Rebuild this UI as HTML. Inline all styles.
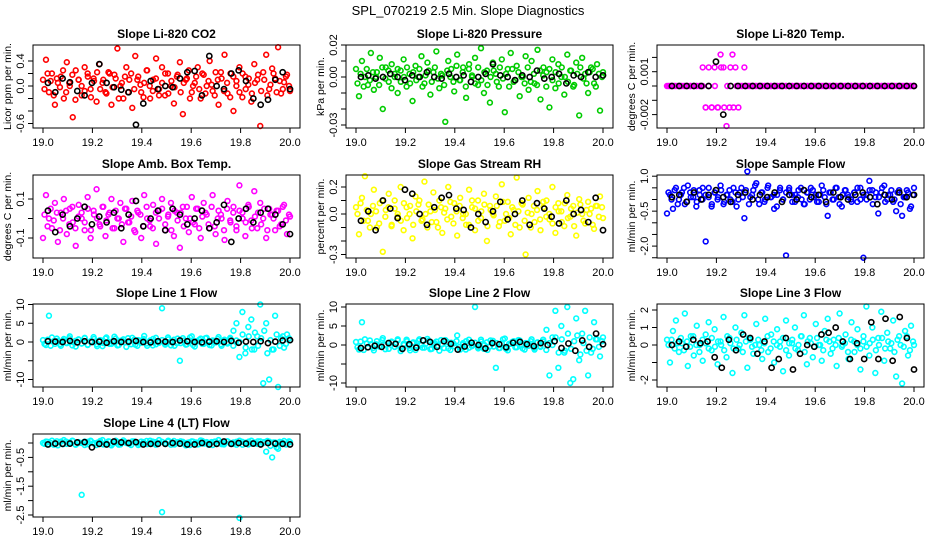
<!DOCTYPE html>
<html><head><meta charset="utf-8"><style>
html,body{margin:0;padding:0;background:#fff;}
svg{display:block;font-family:"Liberation Sans",sans-serif;}
</style></head><body>
<svg id="chart" width="936" height="540" viewBox="0 0 936 540" xmlns="http://www.w3.org/2000/svg">
<rect width="936" height="540" fill="#fff"/>
<text x="468" y="15" text-anchor="middle" font-size="13">SPL_070219  2.5 Min. Slope Diagnostics</text>
</svg>
<script>
const xTicks = [19.0, 19.2, 19.4, 19.6, 19.8, 20.0];
const xTickLabels = ["19.0", "19.2", "19.4", "19.6", "19.8", "20.0"];

const co2Vals = [0.1,0.42,-0.1,0.2,-0.3,0.05,0.15,-0.2,0.38,0.0,-0.5,0.25,0.1,-0.15,0.3,0.2,-0.05,0.12,-0.25,0.35,0.05,-0.1,0.22,-0.3,0.18,0.6,0.0,-0.2,0.3,0.1,-0.35,0.48,0.15,-0.1,0.05,0.25,-0.2,0.1,0.44,-0.05,0.3,-0.15,0.2,0.0,-0.28,0.15,0.38,-0.45,0.1,0.25,-0.1,0.05,0.3,-0.2,0.18,0.0,0.4,-0.08,0.22,-0.3,0.12,0.5,-0.12,0.2,-0.4,0.08,0.3,-0.18,0.15,0.02,-0.25,0.35,0.1,-0.64,0.22,0.5,-0.05,0.28,0.12,0.62,-0.12,0.06,0.18,-0.08];
const co2Vals2 = [-0.05,0.2,0.08,-0.15,0.12,-0.02,0.25,-0.1,0.05,0.18,-0.22,0.1,0.0,-0.08,0.15,-0.18,0.08,0.22,-0.05,0.1,-0.12,0.2,-0.02,0.12,-0.2,0.05,0.15,-0.1,0.2,-0.05,0.1,0.02,-0.18,0.25,0.0,-0.08,0.12,-0.15,0.05,0.2,-0.12,0.08,-0.02,0.18,-0.1,0.05,0.12,-0.2,0.0,0.15,-0.05,0.2,-0.12,0.08,0.02,-0.15,0.1,0.22,-0.08,0.05,-0.18,0.15,0.0,-0.1,0.2,-0.05,0.12,-0.12,0.05,0.18,-0.08,0.1,-0.15,0.02,0.2,-0.1,0.08,-0.05,0.15,0.0];
const co2Black = [0.05,-0.1,0.12,0.06,-0.08,-0.15,0.05,0.35,0.05,-0.02,-0.06,-0.1,-0.62,-0.28,0.08,-0.05,0.0,-0.02,0.12,0.22,0.24,-0.15,0.48,0.0,-0.05,0.2,0.25,0.08,-0.2,-0.3,-0.22,0.1,0.22,-0.05];
const presVals = [0.005,-0.012,0.01,0.0,-0.005,0.015,-0.008,0.003,0.012,-0.02,0.006,-0.003,0.008,0.0,-0.01,0.004,0.011,-0.006,0.002,-0.015,0.007,0.0,0.013,-0.004,0.009,-0.011,0.003,0.016,-0.007,0.001,-0.028,0.01,0.005,-0.009,0.014,-0.002,0.006,-0.013,0.008,0.0,0.012,-0.005,0.018,-0.01,0.004,-0.016,0.009,0.002,-0.006,0.011,-0.022,0.005,0.015,-0.003,0.007,-0.012,0.0,0.013,-0.008,0.01,-0.004,0.017,-0.014,0.006,0.003,-0.019,0.011,-0.007,0.008,0.0,-0.011,0.014,0.004,-0.006,0.009,-0.024,0.012,0.002,-0.01,0.006,-0.004,0.008,-0.021,0.003];
const presVals2 = [-0.004,0.002,-0.006,0.005,-0.002,0.003,0.0,-0.005,0.006,-0.001,0.004,-0.007,0.002,0.005,-0.003,0.0,0.006,-0.004,0.003,-0.002,0.005,-0.006,0.001,0.004,-0.003,0.006,-0.001,0.002,-0.005,0.004,0.0,-0.003,0.007,-0.002,0.003,-0.006,0.005,0.001,-0.004,0.006,-0.002,0.003,-0.005,0.0,0.004,-0.003,0.006,-0.001,0.002,-0.006,0.005,-0.002,0.003,0.0,-0.004,0.006,-0.003,0.002,-0.005,0.004,0.001,-0.006,0.005,-0.002,0.003,-0.004,0.006,0.0,-0.003,0.004,-0.005,0.002,0.006,-0.001,-0.004,0.003,0.005,-0.006,0.002,0.0];
const presBlack = [0.0,0.001,-0.001,0.0,0.002,0.0,-0.002,0.001,0.0,0.003,0.0,-0.001,0.002,0.0,0.001,-0.003,0.0,0.002,0.008,0.001,0.0,-0.002,0.001,0.0,0.004,-0.001,0.0,0.002,-0.004,0.001,0.0,0.003,0.0,0.001];
const tempVals = [0,0,0,0,0,0,0,0,0,0,0,0,0.0013,-0.0015,0,-0.0015,0.0013,-0.0015,0.0022,0.0013,-0.0028,-0.0015,0.0022,0.0013,-0.0015,0,0.0013,0,0,0,0,0,0,0,0,0,0,0,0,0,0,0,0,0,0,0,0,0,0,0,0,0,0,0,0,0,0,0,0,0,0,0,0,0,0,0,0,0,0,0,0,0,0,0,0,0,0,0,0,0,0,0,0,0];
const tempVals2 = [0,0,0,0,0,0,0,0,0,0,0,0,-0.0015,0.0013,-0.0015,0,-0.0015,0.0013,-0.0015,0,0.0013,-0.0015,0,0,0,0,0,0,0,0,0,0,0,0,0,0,0,0,0,0,0,0,0,0,0,0,0,0,0,0,0,0,0,0,0,0,0,0,0,0,0,0,0,0,0,0,0,0,0,0,0,0,0,0,0,0,0,0,0,0];
const tempBlack = [0,0,0,0,0,0,0.0017,-0.002,0,0,0,0,0,0,0,0,0,0,0,0,0,0,0,0,0,0,0,0,0,0,0,0,0,0];
const ambVals = [-0.1,0.12,0.0,-0.05,0.08,-0.12,0.03,0.1,-0.08,0.05,-0.02,-0.14,0.07,0.0,-0.06,0.11,-0.1,0.04,0.15,-0.03,0.06,-0.09,0.02,0.1,-0.05,0.0,0.08,-0.12,0.05,-0.02,0.09,-0.07,0.03,-0.1,0.12,0.0,-0.04,0.07,-0.13,0.04,0.1,-0.06,0.01,0.08,-0.09,0.03,-0.15,0.06,0.0,-0.07,0.11,-0.03,0.05,-0.1,0.08,0.02,-0.05,0.12,-0.08,0.04,0.0,-0.11,0.09,-0.02,0.06,-0.06,0.17,0.03,-0.09,0.07,-0.01,0.14,-0.05,0.08,0.0,-0.1,0.05,0.02,-0.06,0.04,-0.03,0.07,-0.08,0.01];
const ambVals2 = [0.02,-0.04,0.05,-0.01,0.03,-0.06,0.0,0.04,-0.03,0.06,-0.05,0.01,0.03,-0.02,0.05,-0.06,0.02,0.0,-0.04,0.06,-0.01,0.03,-0.05,0.04,0.0,-0.03,0.05,-0.02,0.01,-0.06,0.04,0.02,-0.04,0.06,-0.01,-0.05,0.03,0.0,0.05,-0.03,0.02,-0.06,0.04,-0.01,0.03,-0.04,0.06,0.0,-0.02,0.05,-0.05,0.01,0.03,-0.03,0.06,-0.04,0.0,0.02,-0.06,0.05,-0.01,0.03,-0.04,0.04,0.0,-0.02,0.06,-0.05,0.01,0.03,-0.03,0.05,-0.06,0.02,0.0,0.04,-0.04,0.06,-0.01,0.02];
const ambBlack = [0.04,-0.07,0.02,-0.04,0.0,0.06,-0.03,0.01,-0.02,0.03,-0.05,0.02,0.09,-0.04,0.0,0.04,-0.06,0.05,0.02,-0.03,0.0,0.04,-0.05,-0.02,0.07,-0.12,0.0,0.05,-0.02,0.03,0.05,0.02,-0.03,-0.08];
const rhVals = [0.05,-0.15,0.12,0.28,-0.05,0.0,0.18,-0.1,0.08,-0.28,0.03,0.15,-0.08,0.1,-0.02,0.2,-0.12,0.05,0.0,-0.18,0.13,0.07,-0.05,0.24,-0.1,0.02,0.16,-0.06,0.1,-0.14,0.04,0.2,-0.02,0.08,-0.16,0.12,0.0,-0.08,0.18,0.05,-0.12,0.1,-0.03,0.15,-0.2,0.06,0.0,0.13,-0.09,0.22,-0.05,0.09,-0.15,0.03,0.27,-0.1,0.07,-0.3,0.12,0.0,-0.06,0.17,-0.12,0.05,0.1,-0.04,0.2,-0.14,0.08,0.02,-0.09,0.14,-0.02,0.06,-0.16,0.11,0.0,-0.07,0.09,0.04,-0.11,0.06,0.13,-0.03];
const rhVals2 = [0.0,0.08,-0.05,0.03,-0.1,0.06,0.02,-0.07,0.1,-0.02,0.05,-0.09,0.04,0.0,-0.05,0.08,-0.03,0.06,-0.08,0.02,0.1,-0.04,0.0,0.07,-0.06,0.03,-0.1,0.05,0.01,-0.04,0.09,-0.07,0.02,0.06,-0.03,0.0,-0.08,0.1,0.04,-0.05,0.02,0.07,-0.09,0.03,-0.01,0.06,-0.06,0.09,0.0,-0.03,0.05,-0.08,0.02,0.08,-0.05,0.01,-0.1,0.06,0.03,-0.04,0.09,-0.02,0.0,-0.07,0.05,0.02,-0.06,0.08,-0.03,0.04,-0.09,0.01,0.07,-0.05,0.03,0.0,-0.08,0.06,-0.02,0.05];
const rhBlack = [-0.05,0.02,-0.12,0.1,0.04,-0.03,0.18,0.15,0.0,-0.08,0.05,0.12,0.14,0.04,0.03,-0.1,0.0,-0.06,0.02,0.09,-0.04,0.0,0.1,-0.08,0.08,0.04,-0.02,-0.07,0.1,0.0,0.03,-0.06,0.12,-0.12];
const flowVals = [-0.6,0.2,-0.4,0.5,0.0,0.3,-0.2,0.6,0.1,0.4,-0.1,0.2,0.5,-1.8,0.1,-0.3,0.3,0.0,0.6,-0.2,0.2,0.4,-0.1,0.3,0.0,0.5,-0.8,1.2,0.1,0.4,0.7,-0.2,0.3,0.0,0.6,0.1,-0.4,0.2,0.5,0.0,-2.4,0.4,0.2,-0.1,0.1,0.5,-0.2,0.3,0.0,0.4,0.2,-0.1,0.6,0.1,-0.7,0.3,0.0,0.5,-0.2,0.2,0.4,0.1,-0.1,0.3,0.5,0.0,-2.5,0.2,0.8,0.4,0.1,-0.6,0.3,0.6,0.0,0.2,-0.1,-0.5,0.4,-0.7,0.1,0.3,-0.3,0.5];
const flowVals2 = [0.3,0.0,0.4,-0.2,0.2,0.5,-0.1,0.3,0.1,-0.3,0.4,0.0,0.2,0.5,-0.2,0.3,0.1,0.4,-0.1,0.2,0.0,0.5,-0.3,0.3,0.1,0.4,-0.2,0.2,0.6,0.0,0.3,-0.1,0.5,0.1,0.2,-0.3,0.4,0.0,0.3,0.5,-0.1,0.2,0.4,0.0,-0.2,0.3,0.5,0.1,-0.1,0.2,0.4,-0.2,0.3,0.0,0.5,0.1,-0.3,0.4,0.2,0.0,0.3,-0.1,0.5,0.2,0.0,0.4,-0.2,0.3,0.1,0.5,-0.1,0.2,0.4,0.0,0.3,-0.2,0.1,0.4,-0.4,0.2];
const flowBlack = [0.1,0.2,-0.1,0.3,0.0,0.2,0.4,0.1,-0.1,0.2,0.3,0.0,0.2,0.1,0.3,-0.1,0.2,0.0,0.4,0.1,0.2,-0.1,0.3,0.1,0.0,0.2,0.3,0.1,-0.2,0.2,0.0,0.3,0.1,0.2];
const l1Vals = [0.5,-0.8,7,1.2,-0.5,0.3,-1.0,0.8,-0.3,1.5,0.0,-1.2,0.6,-0.4,1.0,-0.8,0.2,1.3,-0.6,0.4,-1.1,0.9,0.0,-0.5,1.4,-0.9,0.3,0.7,-1.3,0.1,1.1,-0.7,0.5,-0.2,1.6,-1.0,0.4,0.8,-0.6,0.0,9,-0.4,1.2,-0.9,0.6,-0.3,-5,1.0,-0.7,0.3,1.5,-1.2,0.2,0.9,-0.5,1.1,-0.8,0.4,-0.1,1.3,-1.0,0.6,-0.4,0.8,3,5,-4,8,-3,4,6,-2,1.5,10,-11,5,-10,-2,7,-12,1,-1.5,2,0.5];
const l1Vals2 = [-0.5,0.6,-1.0,0.2,0.9,-0.6,0.4,-0.2,1.0,-0.9,0.3,0.7,-0.4,1.1,-0.7,0.0,0.8,-1.1,0.5,-0.3,1.2,-0.5,0.2,0.9,-0.8,0.4,-0.1,1.0,-0.6,0.6,-1.0,0.3,0.8,-0.4,0.1,-0.9,1.1,-0.2,0.5,-0.7,0.7,0.0,-1.0,0.9,-0.3,0.4,-0.6,1.2,-0.8,0.2,0.6,-0.5,1.0,-0.1,-0.9,0.3,0.8,-0.6,0.5,-0.2,1.1,-1.0,0.4,0.0,2,-1.5,1.5,-2,2.5,-1,1,3,-3,0.5,-2,2,-1,1.5,-0.5,1];
const l1Black = [0.2,0.1,0.0,0.3,-0.1,0.2,0.0,0.1,-0.2,0.2,0.0,0.1,0.3,0.0,-0.1,0.2,0.1,0.0,0.4,0.2,0.0,-0.1,0.1,0.2,0.0,0.3,-0.2,0.1,0.0,0.2,-0.3,0.1,0.4,0.5];
const l2Vals = [0.8,-1.2,6,1.5,-0.6,0.2,-1.4,1.0,-0.3,1.8,0.0,-1.0,0.7,-0.5,1.2,-1.6,0.3,1.4,-0.8,0.5,-1.3,1.1,0.0,-0.7,1.6,-1.1,0.4,0.9,-1.5,0.2,1.3,-0.9,0.6,-0.3,2.5,-1.2,0.5,1.0,-0.7,0.0,10,-0.5,1.4,-1.0,0.7,-0.4,1.1,-6,-0.8,0.4,1.7,-1.4,0.3,1.0,-0.6,1.2,-0.9,0.5,-0.2,1.5,-1.2,0.7,-0.5,0.9,4,-8,2,9,-6,5,-2,10,-10,-9,7,-4,3,9,-8,-2,6,1.5,-3,2];
const l2Vals2 = [-0.6,0.9,-1.3,0.4,1.2,-0.8,0.2,-0.4,1.3,-1.1,0.6,0.9,-0.5,1.5,-0.9,0.0,1.0,-1.4,0.7,-0.2,1.5,-0.7,0.3,1.1,-1.0,0.5,-0.2,1.3,-0.8,0.8,-1.3,0.4,1.0,-0.5,0.1,-1.2,1.4,-0.3,0.6,-0.9,0.9,0.0,-1.3,1.2,-0.4,0.5,-0.8,1.5,-1.0,0.3,0.8,-0.6,1.3,-0.1,-1.2,0.4,1.0,-0.8,0.6,-0.3,1.4,-1.3,0.5,0.0,2,-2,1.5,-1.5,3,-1,1,2.5,-2.5,0.5,-1.5,2,-1,1.5,-0.5,1];
const l2Black = [-0.8,-0.6,-0.2,-0.5,0.5,0.3,-1.0,0.2,-0.7,1.2,0.8,-0.5,1.0,0.3,-1.2,-0.4,0.6,0.0,-0.9,0.5,0.2,-0.6,0.6,0.8,0.2,-0.3,0.5,0.0,1.0,-0.8,0.4,-1.5,1.2,-0.5,3,0.2];
const l3Vals = [0.3,-1.0,0.8,1.4,-0.4,0.1,1.8,-1.2,0.5,-0.6,1.1,0.0,-0.9,0.6,1.3,-0.3,0.9,-1.1,0.2,1.6,-0.7,0.4,-1.6,1.0,-0.2,0.7,1.7,-1.3,0.3,-0.5,1.2,0.0,-0.8,1.5,-0.4,0.6,-1.0,0.9,0.2,-1.5,1.4,-0.6,0.1,1.0,-0.3,0.5,1.7,-1.1,0.4,-0.7,1.2,0.0,-0.9,0.8,1.5,-0.5,0.3,-1.2,1.8,0.0,0.6,-0.8,1.3,-0.4,0.9,-1.4,0.2,2.2,-0.6,1.0,-1.6,0.4,1.9,-0.9,0.7,-0.2,1.4,-1.8,0.5,-2.2,0.8,-0.6,1.1,0.0];
const l3Vals2 = [0.0,0.3,-0.2,0.1,0.4,-0.3,0.2,-0.1,0.5,0.0,-0.4,0.3,0.1,-0.2,0.4,-0.1,0.2,0.0,-0.3,0.5,0.1,-0.2,0.3,0.0,-0.4,0.2,0.4,-0.1,0.0,0.3,-0.3,0.1,0.5,-0.2,0.2,0.0,-0.1,0.4,-0.3,0.1,0.3,-0.2,0.0,0.5,-0.4,0.2,0.1,-0.1,0.4,0.0,-0.3,0.3,0.2,-0.2,0.0,0.4,-0.1,0.1,-0.4,0.3,0.2,0.0,-0.2,0.5,-0.1,0.1,0.3,-0.3,0.0,0.4,-0.2,0.2,0.1,-0.4,0.3,0.0,-0.1,0.5,-0.3,0.2];
const l3Black = [0.0,0.2,-0.1,0.3,0.1,0.2,-0.7,-1.3,0.3,-0.3,0.6,0.4,-0.5,0.2,-1.3,-0.8,0.4,-1.4,-0.5,0.0,-0.1,0.6,0.7,1.0,0.2,-0.8,0.1,-0.8,1.3,-0.8,1.5,-0.9,1.6,0.4,-1.4];
const l4Vals = [0.0,0.05,-0.05,0.08,0.0,-0.08,0.05,0.1,-0.03,0.02,0.07,-0.06,0.0,-1.8,0.05,-0.04,0.08,0.0,-0.07,0.03,0.1,-0.02,0.06,-0.08,0.0,0.04,-0.05,0.09,0.0,-0.03,0.06,0.02,-0.07,0.05,0.0,-0.04,0.08,-0.02,0.03,0.1,-2.4,0.0,0.05,-0.06,0.07,0.0,-0.03,0.04,-0.08,0.02,0.06,0.0,-0.05,0.09,-0.02,0.03,0.0,-0.07,0.05,0.1,-0.04,0.0,0.06,-0.03,0.02,-0.06,-2.6,0.04,0.0,-0.05,0.08,0.02,-0.03,0.06,0.0,-0.3,0.05,-0.5,0.02,-0.2,0.0,0.07,-0.04,0.03];
const l4Vals2 = [-0.03,0.04,0.0,-0.06,0.06,0.02,-0.04,0.05,-0.01,0.08,-0.05,0.03,0.0,-0.07,0.04,0.06,-0.02,0.01,0.07,-0.05,0.0,0.05,-0.03,0.08,-0.06,0.02,0.04,-0.01,-0.07,0.06,0.0,-0.04,0.03,0.07,-0.02,0.05,-0.06,0.0,0.04,-0.03,0.08,0.01,-0.05,0.03,0.06,-0.02,0.0,-0.07,0.05,0.02,-0.04,0.07,0.0,-0.06,0.03,0.05,-0.01,0.02,-0.05,0.06,0.0,-0.03,0.04,0.08,-0.06,0.01,0.05,-0.02,0.0,0.06,-0.04,0.03,0.07,-0.1,0.02,-0.15,0.04,0.0,-0.05,0.06];
const l4Black = [-0.05,-0.02,-0.03,-0.02,0.02,0.03,-0.15,-0.03,-0.05,0.05,0.02,0.0,0.03,-0.05,-0.03,-0.03,-0.03,0.0,-0.02,-0.05,-0.05,0.0,-0.05,-0.03,0.05,-0.03,0.0,-0.02,-0.02,-0.05,0.0,-0.02,-0.03,-0.05];

const panels = [
 {title:"Slope Li-820 CO2", ylab:"Licor ppm per min.", col:0,row:0, zero:41, scale:62.5, ticks:[0.4,0.2,0,-0.2,-0.4,-0.6], labels:["0.4","","0.0","","","-0.6"], vals:co2Vals, vals2:co2Vals2, blk:co2Black, color:"#ff0000"},
 {title:"Slope Li-820 Pressure", ylab:"kPa per min.", col:1,row:0, zero:32, scale:1600, ticks:[0.02,0.01,0,-0.01,-0.02,-0.03], labels:["0.02","","0.00","","","-0.03"], vals:presVals, vals2:presVals2, blk:presBlack, color:"#00cc00"},
 {title:"Slope Li-820 Temp.", ylab:"degrees C per min.", col:2,row:0, zero:41, scale:14300, ticks:[0.002,0.001,0,-0.001,-0.002], labels:["","0.001","","","-0.002"], vals:tempVals, vals2:tempVals2, blk:tempBlack, color:"#ff00ff"},
 {title:"Slope Amb. Box Temp.", ylab:"degrees C per min.", col:0,row:1, zero:43.5, scale:195, ticks:[0.1,0,-0.1], labels:["0.1","","-0.1"], vals:ambVals, vals2:ambVals2, blk:ambBlack, color:"#ff00ff"},
 {title:"Slope Gas Stream RH", ylab:"percent per min.", col:1,row:1, zero:39, scale:135, ticks:[0.2,0.1,0,-0.1,-0.2,-0.3], labels:["0.2","","0.0","","","-0.3"], vals:rhVals, vals2:rhVals2, blk:rhBlack, color:"#ffff00"},
 {title:"Slope Sample Flow", ylab:"ml/min per min.", col:2,row:1, zero:24.5, scale:23.3, ticks:[1,0.5,0,-0.5,-1,-1.5,-2,-2.5], labels:["1.0","","","-0.5","","","-2.0",""], vals:flowVals, vals2:flowVals2, blk:flowBlack, color:"#0000ff"},
 {title:"Slope Line 1 Flow", ylab:"ml/min per min.", col:0,row:2, zero:38, scale:3.75, ticks:[10,5,0,-5,-10], labels:["10","5","0","","-10"], vals:l1Vals, vals2:l1Vals2, blk:l1Black, color:"#00ffff"},
 {title:"Slope Line 2 Flow", ylab:"ml/min per min.", col:1,row:2, zero:41, scale:3.8, ticks:[10,5,0,-5,-10], labels:["10","5","0","","-10"], vals:l2Vals, vals2:l2Vals2, blk:l2Black, color:"#00ffff"},
 {title:"Slope Line 3 Flow", ylab:"ml/min per min.", col:2,row:2, zero:41, scale:17.5, ticks:[2,1,0,-1,-2], labels:["2","1","0","","-2"], vals:l3Vals, vals2:l3Vals2, blk:l3Black, color:"#00ffff"},
 {title:"Slope Line 4 (LT) Flow", ylab:"ml/min per min.", col:0,row:3, zero:9, scale:28.8, ticks:[0,-0.5,-1,-1.5,-2,-2.5], labels:["","-0.5","","-1.5","","-2.5"], vals:l4Vals, vals2:l4Vals2, blk:l4Black, color:"#00ffff"}
];
const colL = [33, 346, 657];
const rowT = [45, 175, 304, 434];
const W = 267, H = 83;
const NS = "http://www.w3.org/2000/svg";
const svg = document.getElementById('chart');
function mk(tag, attrs, parent){ const e=document.createElementNS(NS,tag); for(const k in attrs) e.setAttribute(k,attrs[k]); parent.appendChild(e); return e; }

panels.forEach((p) => {
  const L = colL[p.col], T = rowT[p.row];
  const xs = v => L + 10 + (v - 19) * 247;
  const ys = v => T + p.zero - v * p.scale;
  const g = mk('g', {}, svg);
  
  
  const t = mk('text', {x: L + W/2, y: T - 7, 'text-anchor':'middle', 'font-size':12, 'font-weight':'bold'}, g);
  t.textContent = p.title;
  
  
  const pts = mk('g', {fill:'none', stroke:p.color, 'stroke-width':1.6}, g);
  
  
  const n = p.vals.length;
  p.vals.forEach((v, i) => {
    const c = mk('circle', {cx: xs(19 + i/(n-1)), cy: ys(v), r: 2.4}, pts);
    
    
  });
  const n2 = p.vals2.length;
  p.vals2.forEach((v, i) => {
    const c = mk('circle', {cx: xs(19.006 + 0.99*i/(n2-1)), cy: ys(v), r: 2.4}, pts);
    
    
  });
  const bk = mk('g', {fill:'none', stroke:'#000', 'stroke-width':1.6}, g);
  
  
  const m = p.blk.length;
  p.blk.forEach((v, i) => {
    const c = mk('circle', {cx: xs(19.02 + 0.98*i/(m-1)), cy: ys(v), r: 2.6}, bk);
    
    
  });
  const box = mk('rect', {x:L, y:T, width:W, height:H, fill:'none', stroke:'#000', 'stroke-width':1}, g);
  
  
  const xa = mk('g', {}, g);
  
  
  mk('line', {x1:xs(xTicks[0]), x2:xs(xTicks[xTicks.length-1]), y1:T+H, y2:T+H, stroke:'#000'}, xa);
  xTicks.forEach((v, i) => {
    mk('line', {x1:xs(v), x2:xs(v), y1:T+H, y2:T+H+5, stroke:'#000'}, xa);
    const tl = mk('text', {x:xs(v), y:T+H+18, 'text-anchor':'middle', 'font-size':11}, xa);
    tl.textContent = xTickLabels[i];
    
    
  });
  const ya = mk('g', {}, g);
  
  
  mk('line', {x1:L, x2:L, y1:ys(p.ticks[0]), y2:ys(p.ticks[p.ticks.length-1]), stroke:'#000'}, ya);
  p.ticks.forEach((v, i) => {
    const y = ys(v);
    mk('line', {x1:L-5, x2:L, y1:y, y2:y, stroke:'#000'}, ya);
    if (p.labels[i]) {
      const tl = mk('text', {x:L-9, y:y, 'text-anchor':'middle', 'font-size':11, transform:`rotate(-90 ${L-9} ${y})`}, ya);
      tl.textContent = p.labels[i];
      
      
    }
  });
  const yl = mk('text', {x:L-22, y:T+H/2, 'text-anchor':'middle', 'font-size':10.5, transform:`rotate(-90 ${L-22} ${T+H/2})`}, g);
  yl.textContent = p.ylab;
  
  
});
</script>
</body></html>
